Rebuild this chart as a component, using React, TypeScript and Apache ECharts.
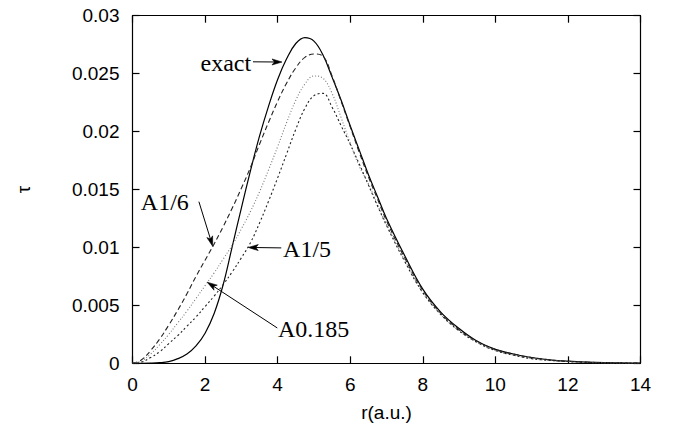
import React, { useEffect, useRef } from "react";
import * as echarts from "echarts";

const xs = [0, 0.25, 0.5, 0.75, 1, 1.25, 1.5, 1.75, 2, 2.25, 2.5, 2.75, 3, 3.25, 3.5, 3.75, 4, 4.25, 4.5, 4.75, 5, 5.25, 5.5, 5.75, 6, 6.25, 6.5, 6.75, 7, 7.5, 8, 8.5, 9, 9.5, 10, 10.5, 11, 11.5, 12, 12.5, 13, 13.5, 14];

const exact = [0, 0, 0.00001, 0.00005, 0.00015, 0.0004, 0.0008, 0.0015, 0.0026, 0.0043, 0.0068, 0.0101, 0.0134, 0.0166, 0.0196, 0.0222, 0.0245, 0.0263, 0.0276, 0.0281, 0.0278, 0.0266, 0.0247, 0.0227, 0.0205, 0.0184, 0.0163, 0.0144, 0.0125, 0.0093, 0.0064, 0.0044, 0.003, 0.0019, 0.0012, 0.0008, 0.0005, 0.0003, 0.00018, 0.0001, 0.00005, 0.00003, 0.00001];

const a16 = [0, 0.0003, 0.0011, 0.0021, 0.0033, 0.0046, 0.006, 0.0075, 0.0089, 0.0103, 0.0118, 0.0134, 0.0151, 0.0169, 0.0189, 0.0208, 0.0226, 0.0242, 0.0255, 0.0264, 0.0267, 0.0265, 0.0248, 0.0226, 0.0204, 0.0182, 0.0161, 0.0142, 0.0123, 0.0091, 0.0063, 0.0043, 0.0029, 0.0019, 0.0012, 0.0008, 0.0005, 0.0003, 0.00017, 0.0001, 0.00005, 0.00003, 0.00001];

const a0185 = [0, 0.0002, 0.0008, 0.0016, 0.0025, 0.0035, 0.0045, 0.0056, 0.0067, 0.0078, 0.009, 0.0102, 0.0116, 0.0131, 0.0148, 0.0167, 0.0187, 0.0208, 0.0227, 0.0241, 0.0248, 0.0246, 0.0233, 0.0212, 0.019, 0.017, 0.0155, 0.0137, 0.012, 0.0089, 0.0061, 0.0042, 0.0028, 0.0018, 0.0011, 0.0007, 0.0004, 0.00025, 0.00015, 0.00008, 0.00004, 0.00002, 0.00001];

const a15 = [0, 0.0001, 0.0005, 0.001, 0.0017, 0.0024, 0.0032, 0.004, 0.0049, 0.0058, 0.0068, 0.0079, 0.0091, 0.0104, 0.0121, 0.014, 0.016, 0.0181, 0.0202, 0.022, 0.0231, 0.0233, 0.0221, 0.0205, 0.0189, 0.0172, 0.0154, 0.0136, 0.0119, 0.0088, 0.0061, 0.0042, 0.0028, 0.0018, 0.0011, 0.0007, 0.0004, 0.00025, 0.00015, 0.00008, 0.00004, 0.00002, 0.00001];

const xTicks = [0, 2, 4, 6, 8, 10, 12, 14];
const yTicks = [0, 0.005, 0.01, 0.015, 0.02, 0.025, 0.03];

const annLabels = ["exact", "A1/6", "A1/5", "A0.185"];
const annTips = [[4.12, 0.026], [2.21, 0.0101], [3.19, 0.01], [2.06, 0.007]];
const annTails = [[3.32, 0.02602], [1.83, 0.01395], [4.1, 0.00996], [3.99, 0.00305]];
const annText = [[3.27, 0.02594], [0.23, 0.01393], [4.15, 0.00987], [4.01, 0.00297]];
const annAlign = ["right", "left", "left", "left"];

const pairs = (ys: number[]) => xs.map((x, i) => [x, ys[i]]);

export default function App() {
  const ref = useRef<HTMLDivElement>(null);
  useEffect(() => {
    document.body.style.margin = "0";
    const chart = echarts.init(ref.current!, null, { renderer: "svg" });
    const tickFont = { fontFamily: "Liberation Sans", fontSize: 19, color: "#000" };
    const common = {
      type: "value",
      min: 0,
      axisLine: { show: true, onZero: false, lineStyle: { color: "#000", width: 1.2 } },
      axisTick: { show: true, inside: true, length: 7, lineStyle: { color: "#000", width: 1.2 } },
      splitLine: { show: false },
    };
    const lineSeries = (name: string, ys: number[], color: string, type: any, width: number) => ({
      name,
      type: "line",
      data: pairs(ys),
      showSymbol: false,
      smooth: 0.4,
      lineStyle: { color, width, type },
      z: 3,
    });
    chart.setOption({
      animation: false,
      grid: { left: 132.5, right: 39.5, top: 15.7, bottom: 65.7 },
      xAxis: [
        {
          ...common,
          max: 14,
          interval: 2,
          position: "bottom",
          name: "r(a.u.)",
          nameLocation: "middle",
          nameGap: 40,
          nameTextStyle: { fontFamily: "Liberation Sans", fontSize: 19, color: "#000" },
          axisLabel: { ...tickFont, margin: 12, formatter: (v: number) => (xTicks.includes(v) ? String(v) : "") },
        },
        { ...common, max: 14, interval: 2, position: "top", axisLabel: { show: false } },
      ],
      yAxis: [
        {
          ...common,
          max: 0.03,
          interval: 0.005,
          position: "left",
          name: "τ",
          nameLocation: "middle",
          nameRotate: 90,
          nameGap: 100,
          nameTextStyle: { fontFamily: "Liberation Sans", fontSize: 19, color: "#000" },
          axisLabel: {
            ...tickFont,
            margin: 13,
            formatter: (v: number) => {
              const t = yTicks.find((k) => Math.abs(k - v) < 1e-9);
              return t === undefined ? "" : String(t);
            },
          },
        },
        { ...common, max: 0.03, interval: 0.005, position: "right", axisLabel: { show: false } },
      ],
      series: [
        lineSeries("exact", exact, "#000", "solid", 1.2),
        lineSeries("A1/6", a16, "#222", [5, 3], 1.1),
        lineSeries("A0.185", a0185, "#777", [1, 2], 1.1),
        lineSeries("A1/5", a15, "#222", [2, 2.5], 1.1),
      ],
    });

    const toPx = (p: number[]) => chart.convertToPixel({ gridIndex: 0 }, p) as number[];
    const elements: any[] = [];
    annLabels.forEach((label, i) => {
      const tip = toPx(annTips[i]);
      const tail = toPx(annTails[i]);
      const tp = toPx(annText[i]);
      const dx = tip[0] - tail[0];
      const dy = tip[1] - tail[1];
      const len = Math.hypot(dx, dy) || 1;
      const ux = dx / len;
      const uy = dy / len;
      const L = 10;
      const W = 3;
      const bx = tip[0] - ux * L;
      const by = tip[1] - uy * L;
      elements.push({
        type: "line",
        shape: { x1: tail[0], y1: tail[1], x2: tip[0] - ux * 4, y2: tip[1] - uy * 4 },
        style: { stroke: "#000", lineWidth: 1 },
        z: 10,
      });
      elements.push({
        type: "polygon",
        shape: {
          points: [
            [tip[0], tip[1]],
            [bx - uy * W, by + ux * W],
            [tip[0] - ux * L * 0.75, tip[1] - uy * L * 0.75],
            [bx + uy * W, by - ux * W],
          ],
        },
        style: { fill: "#000", stroke: "#000", lineWidth: 0.6 },
        z: 10,
      });
      elements.push({
        type: "text",
        style: {
          text: label,
          x: tp[0],
          y: tp[1],
          fill: "#000",
          fontFamily: "Liberation Serif",
          fontSize: 24,
          align: annAlign[i],
          textAlign: annAlign[i],
          verticalAlign: "middle",
          textVerticalAlign: "middle",
        },
        z: 10,
      });
    });
    chart.setOption({ graphic: { elements } });
    return () => chart.dispose();
  }, []);
  return <div ref={ref} style={{ width: 680, height: 429 }} />;
}
